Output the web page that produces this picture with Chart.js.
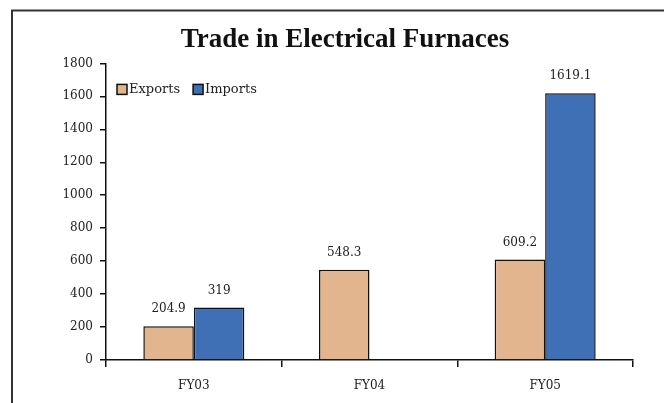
<!DOCTYPE html>
<html>
<head>
<meta charset="utf-8">
<script src="https://cdn.jsdelivr.net/npm/chart.js@4.4.1/dist/chart.umd.min.js"></script>
<style>
html,body{margin:0;padding:0;background:#fff;}
#c{display:block;}
</style>
</head>
<body>
<canvas id="c" width="664" height="403" style="width:664px;height:403px"></canvas>
<script>
const chartTitle = 'Trade in Electrical Furnaces';
const categories = ['FY03', 'FY04', 'FY05'];
const seriesNames = ['Exports', 'Imports'];
const exportsValues = [204.9, 548.3, 609.2];
const importsValues = [319, null, 1619.1];
const yTicks = [0, 200, 400, 600, 800, 1000, 1200, 1400, 1600, 1800];

const SMALL_FONT = "'DejaVu Serif', serif";

const framePlugin = {
  id: 'frame',
  afterDraw(chart) {
    const ctx = chart.ctx;
    ctx.save();
    ctx.strokeStyle = '#333';
    ctx.lineWidth = 2;
    ctx.beginPath();
    ctx.moveTo(12, 403);
    ctx.lineTo(12, 10.5);
    ctx.lineTo(664, 10.5);
    ctx.stroke();
    ctx.restore();
  }
};

const valueLabelPlugin = {
  id: 'valueLabels',
  afterDatasetsDraw(chart) {
    const ctx = chart.ctx;
    ctx.save();
    ctx.font = "12px " + SMALL_FONT;
    ctx.fillStyle = '#222';
    ctx.textAlign = 'center';
    ctx.textBaseline = 'middle';
    chart.data.datasets.forEach((ds, i) => {
      const meta = chart.getDatasetMeta(i);
      meta.data.forEach((el, j) => {
        const v = ds.data[j];
        if (v === null || v === undefined) return;
        ctx.fillText(String(v), el.x, el.y - 17);
      });
    });
    ctx.restore();
  }
};

const legendPlugin = {
  id: 'manualLegend',
  afterDraw(chart) {
    const ctx = chart.ctx;
    const area = chart.chartArea;
    ctx.save();
    ctx.font = "13px " + SMALL_FONT;
    ctx.textBaseline = 'middle';
    ctx.textAlign = 'left';
    let x = area.left + 11;
    const y = area.top + 21;
    chart.data.datasets.forEach((ds) => {
      ctx.fillStyle = ds.backgroundColor;
      ctx.fillRect(x, y, 10, 10);
      ctx.strokeStyle = '#111';
      ctx.lineWidth = 1.5;
      ctx.strokeRect(x, y, 10, 10);
      ctx.fillStyle = '#222';
      ctx.fillText(ds.label, x + 12, y + 5);
      x += 12 + ctx.measureText(ds.label).width + 13;
    });
    ctx.restore();
  }
};

new Chart(document.getElementById('c'), {
  type: 'bar',
  data: {
    labels: categories,
    datasets: [
      { label: seriesNames[0], data: exportsValues, backgroundColor: '#E3B58E', borderColor: '#111', borderWidth: 1.5 },
      { label: seriesNames[1], data: importsValues, backgroundColor: '#3F70B6', borderColor: '#111', borderWidth: 1.5 }
    ]
  },
  options: {
    responsive: false,
    animation: false,
    devicePixelRatio: 1,
    layout: { padding: { left: 57, right: 31, top: 0, bottom: 0 } },
    datasets: { bar: { categoryPercentage: 0.575, barPercentage: 1.0 } },
    plugins: {
      legend: { display: false },
      tooltip: { enabled: false },
      title: {
        display: true,
        text: chartTitle,
        color: '#111',
        font: { family: "'Liberation Serif', serif", size: 27, weight: 'bold' },
        padding: { top: 24, bottom: 7 }
      }
    },
    scales: {
      x: {
        grid: { drawOnChartArea: false, drawTicks: true, tickLength: 7, color: '#111', lineWidth: 1.5, offset: true },
        border: { color: '#111', width: 1.5 },
        ticks: { color: '#222', font: { family: SMALL_FONT, size: 12 }, padding: 12 },
        afterFit(scale) { scale.height = 43; }
      },
      y: {
        min: 0,
        max: 1800,
        afterBuildTicks(scale) { scale.ticks = yTicks.map(v => ({ value: v })); },
        grid: { drawOnChartArea: false, drawTicks: true, tickLength: 6, color: '#111', lineWidth: 1.5 },
        border: { color: '#111', width: 1.5 },
        ticks: { color: '#222', font: { family: SMALL_FONT, size: 12 }, padding: 7, callback: (v) => String(v) },
        afterFit(scale) { scale.width = 49; }
      }
    }
  },
  plugins: [framePlugin, valueLabelPlugin, legendPlugin]
});
</script>
</body>
</html>
